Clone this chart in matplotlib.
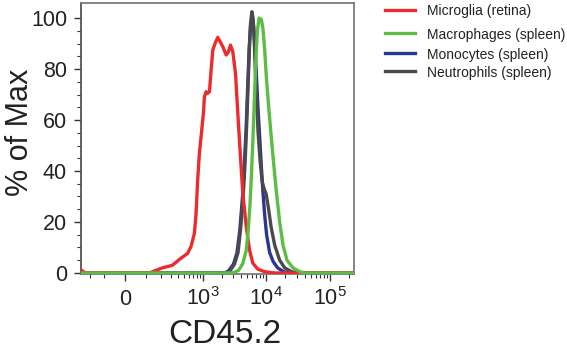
import numpy as np
import matplotlib
matplotlib.use('Agg')
import matplotlib.pyplot as plt
from matplotlib.lines import Line2D
from matplotlib.ticker import FixedLocator, FixedFormatter

plt.rcParams['font.family'] = ['Liberation Sans', 'DejaVu Sans']
plt.rcParams['mathtext.fontset'] = 'custom'
plt.rcParams['mathtext.rm'] = 'Liberation Sans'
plt.rcParams['mathtext.it'] = 'Liberation Sans:italic'
plt.rcParams['mathtext.bf'] = 'Liberation Sans:bold'

# ---------------- data (CD45.2 fluorescence, % of max) ----------------
microglia_x = [-285, -240, 119, 215, 320, 447, 572, 648, 733, 780, 827, 881, 937,
               1020, 1058, 1126, 1194, 1271, 1351, 1434, 1564, 1718, 1877, 2063,
               2335, 2537, 2729, 2969, 3275, 3562, 3886, 4269, 4833, 5448, 6144,
               7372, 9408, 13524, 240000]
microglia_y = [1.2, 0, 0, 2, 3, 5.8, 7.7, 10.4, 15.5, 23.4, 36.5, 47, 53.5,
               62.6, 69.1, 71.1, 70.5, 71.1, 79.6, 87.4, 90.1, 92.4, 90.7, 88.8,
               85.5, 86.8, 89.4, 86.8, 78.3, 62.6, 47, 31.2, 18.2, 9.0, 3.8,
               1.5, 0.5, 0, 0]

macrophages_x = [-285, 2937, 3653, 4225, 4800, 5161, 5510, 5819, 6145, 6489, 6852,
                 7237, 7699, 8340, 8840, 9404, 10004, 10995, 11997, 13044, 14390,
                 16226, 18295, 21160, 26317, 33568, 41747, 240000]
macrophages_y = [0, 0, 1, 3.5, 8.5, 16, 26, 38, 52, 68, 84,
                 95, 100, 99.5, 96, 88, 77, 64, 53, 43, 32,
                 20, 11, 5, 2, 0.5, 0, 0]

monocytes_x = [-285, 2196, 2540, 3045, 3459, 3831, 4225, 4543, 4833, 5105, 5371,
               5653, 5969, 6304, 6656, 7030, 7423, 7840, 8340, 8840, 9404, 10110,
               11279, 12808, 15083, 18757, 23342, 240000]
monocytes_y = [0, 0, 0.8, 3.5, 8, 17, 30, 44, 58, 74, 88,
               97, 100, 97, 88, 76, 64, 54, 42, 32, 23, 15,
               8, 4.5, 2, 0.5, 0, 0]

neutrophils_x = [-285, 2276, 2634, 3159, 3588, 3929, 4303, 4628, 4887, 5161, 5411,
                 5653, 5926, 6190, 6419, 6656, 7030, 7423, 7984, 8587, 9235, 9931,
                 10876, 11911, 13524, 16226, 19460, 25104, 31220, 240000]
neutrophils_y = [0, 0, 0.5, 3.5, 8, 17, 29, 43, 57, 73, 88,
                 98, 102.5, 100, 93, 82, 68, 55, 44, 36, 33, 31,
                 25, 18, 11, 5, 2, 0.5, 0, 0]

series_labels = ['Microglia (retina)', 'Macrophages (spleen)',
                 'Monocytes (spleen)', 'Neutrophils (spleen)']

x_major = [0, 1e3, 1e4, 1e5]
x_major_labels = ['0', r'$\mathregular{10^3}$', r'$\mathregular{10^4}$', r'$\mathregular{10^5}$']
y_major = [0, 20, 40, 60, 80, 100]

# ---------------- styling ----------------
colors = {'Microglia (retina)': '#ec2b2f',
          'Macrophages (spleen)': '#5cbd45',
          'Monocytes (spleen)': '#2b3592',
          'Neutrophils (spleen)': '#4a4a4c'}
W = 120.0

def fwd(x):
    return np.arcsinh(np.asarray(x, dtype=float) / W)

def inv(y):
    return W * np.sinh(np.asarray(y, dtype=float))

fig = plt.figure(figsize=(5.67, 3.49), dpi=100)
ax = fig.add_axes([81/567, 1 - 274/349, 273/567, 271/349])
ax.set_xscale('function', functions=(fwd, inv))

lw = 2.4
ax.plot(monocytes_x, monocytes_y, color=colors[series_labels[2]], lw=lw, zorder=2, solid_joinstyle='round')
ax.plot(neutrophils_x, neutrophils_y, color=colors[series_labels[3]], lw=lw, zorder=3, solid_joinstyle='round')
ax.plot(microglia_x, microglia_y, color=colors[series_labels[0]], lw=lw, zorder=4, solid_joinstyle='round')
ax.plot(macrophages_x, macrophages_y, color=colors[series_labels[1]], lw=lw, zorder=5, solid_joinstyle='round')

ax.set_xlim(-285, 240000)
ax.set_ylim(-0.4, 105.9)

# ticks
x_minor = [-200, -100, 100, 200, 300, 400, 500, 600, 700, 800, 900]
x_minor += [m * 1e3 for m in range(2, 10)] + [m * 1e4 for m in range(2, 10)] + [2e5]
ax.xaxis.set_major_locator(FixedLocator(x_major))
ax.xaxis.set_major_formatter(FixedFormatter(x_major_labels))
ax.xaxis.set_minor_locator(FixedLocator(x_minor))
ax.yaxis.set_major_locator(FixedLocator(y_major))
ax.yaxis.set_minor_locator(FixedLocator([v for v in range(5, 105, 5) if v % 20]))

ax.tick_params(axis='x', which='major', direction='out', length=5, width=1, color='#333333',
               labelsize=15.5, pad=17.5, labelcolor='#222222')
ax.tick_params(axis='x', which='minor', direction='out', length=3, width=0.8, color='#333333')
ax.tick_params(axis='y', which='major', direction='out', length=5, width=1, color='#333333',
               labelsize=15.5, pad=5, labelcolor='#222222')
ax.tick_params(axis='y', which='minor', direction='out', length=3, width=0.8, color='#333333')
for t in ax.xaxis.get_major_ticks():
    t.label1.set_verticalalignment('baseline')

for s in ax.spines.values():
    s.set_color('#7a7a7a')
    s.set_linewidth(1.3)
ax.spines['left'].set_color('#555555')

# axis titles
fig.text(20/567, 1 - 132/349, '% of Max', rotation=90, ha='center', va='center',
         fontsize=22, color='#222222')
fig.text(225/567, 1 - 343/349, 'CD45.2', ha='center', va='baseline',
         fontsize=24, color='#222222')

# legend (figure-level)
leg_y = [10, 33, 53, 71]
for lab, yy in zip(series_labels, leg_y):
    yf = 1 - yy/349
    fig.add_artist(Line2D([385/567, 415/567], [yf, yf], color=colors[lab], lw=2.4,
                          transform=fig.transFigure))
    fig.text(427/567, 1 - (yy + 1.5)/349, lab, ha='left', va='center', fontsize=10, color='#222222')

fig.savefig('out.png', dpi=100)
